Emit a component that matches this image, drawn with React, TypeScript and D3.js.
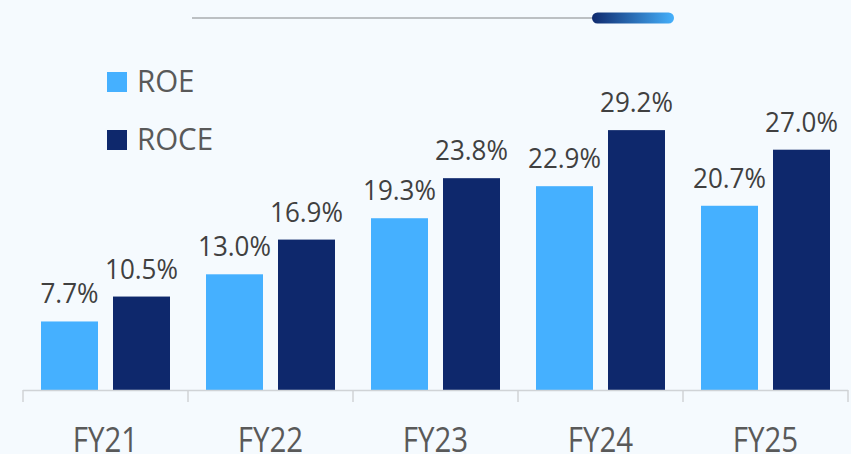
import React from "react";
import * as d3 from "d3";

const categories = ["FY21", "FY22", "FY23", "FY24", "FY25"];
const seriesNames = ["ROE", "ROCE"];
const roe = [7.7, 13.0, 19.3, 22.9, 20.7];
const roce = [10.5, 16.9, 23.8, 29.2, 27.0];
const colors = ["#45b0ff", "#0e286c"];

const W = 851;
const H = 454;
const FONT = "'Open Sans', 'Noto Sans', sans-serif";

export default function App() {
  const x = d3.scaleBand<string>().domain(categories).range([23, 848]).padding(0);
  const sub = d3
    .scaleBand<string>()
    .domain(seriesNames)
    .range([18, 147])
    .paddingInner(15 / 72)
    .paddingOuter(0);
  const y = d3.scaleLinear().domain([0, 30]).range([390, 123]);
  const series = [roe, roce];
  const ticks = [...categories.map((c) => x(c)!), x.range()[1]];

  return (
    <div style={{ position: "fixed", left: 0, top: 0, width: W, height: H }}>
      <svg width={W} height={H} style={{ display: "block" }}>
        <defs>
          <linearGradient id="pill" x1="0" x2="1" y1="0" y2="0">
            <stop offset="0%" stopColor="#0f2a6e" />
            <stop offset="100%" stopColor="#45b0fb" />
          </linearGradient>
        </defs>
        <rect width={W} height={H} fill="#f5fafe" />
        <line x1={192} x2={596} y1={18} y2={18} stroke="#bcc0c3" strokeWidth={2} />
        <rect x={592} y={12.5} width={82} height={11} rx={5.5} fill="url(#pill)" />

        {/* legend */}
        {seriesNames.map((s, i) => (
          <g key={s}>
            <rect x={107} y={72 + i * 58} width={20} height={20} fill={colors[i]} />
            <text
              transform={`translate(137,${92 + i * 58}) scale(1,1.06)`}
              fontFamily={FONT}
              fontSize={29.5}
              fill="#595959"
            >
              {s}
            </text>
          </g>
        ))}

        {/* bars */}
        {categories.map((c, ci) => (
          <g key={c} transform={`translate(${x(c)},0)`}>
            {series.map((vals, si) => {
              const v = vals[ci];
              const bx = sub(seriesNames[si])!;
              const bw = sub.bandwidth();
              return (
                <g key={si}>
                  <rect x={bx} y={y(v)} width={bw} height={y(0) - y(v)} fill={colors[si]} />
                  <text
                    transform={`translate(${bx + bw / 2},${y(v) - 18}) scale(1,1.08)`}
                    textAnchor="middle"
                    fontFamily={FONT}
                    fontSize={26}
                    fill="#404040"
                  >
                    {v.toFixed(1) + "%"}
                  </text>
                </g>
              );
            })}
          </g>
        ))}

        {/* axis */}
        <line x1={23} x2={848} y1={390.5} y2={390.5} stroke="#d0d3d6" strokeWidth={1.5} />
        {ticks.map((t, i) => (
          <line key={i} x1={t} x2={t} y1={390} y2={402} stroke="#d0d3d6" strokeWidth={1.5} />
        ))}
        {categories.map((c) => (
          <text
            key={c}
            transform={`translate(${x(c)! + x.bandwidth() / 2},452) scale(1,1.15)`}
            textAnchor="middle"
            fontFamily={FONT}
            fontSize={29.5}
            fill="#595959"
          >
            {c}
          </text>
        ))}
      </svg>
    </div>
  );
}
